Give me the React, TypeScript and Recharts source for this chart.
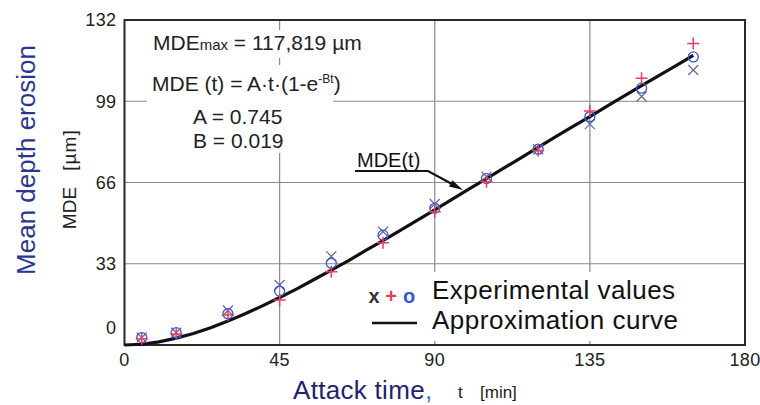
import {
  ComposedChart,
  Line,
  Scatter,
  XAxis,
  YAxis,
  CartesianGrid,
  ReferenceArea,
  Legend,
} from 'recharts'

const font = 'Liberation Sans, Arial, sans-serif'

// measured attack times [min]
const times = [5, 15, 30, 45, 60, 75, 90, 105, 120, 135, 150, 165]
// three experimental runs, MDE [um]
const crossValues = [3.0, 5.0, 14.0, 24.4, 36.0, 46.0, 57.3, 68.4, 79.5, 89.7, 100.9, 111.7]
const circleValues = [3.0, 5.0, 12.7, 21.9, 33.2, 44.6, 55.5, 67.6, 79.5, 92.7, 104.3, 117.0]
const plusValues = [2.5, 4.5, 12.2, 18.3, 29.8, 41.5, 54.1, 66.3, 79.0, 95.0, 108.3, 122.5]

// approximation curve
const curveTimes = [
  0, 5, 10, 15, 20, 25, 30, 35, 40, 45, 50, 55, 60, 65, 70, 75, 80, 85, 90, 95, 100, 105, 110,
  115, 120, 125, 130, 135, 140, 145, 150, 155, 160, 165,
]
const curveValues = [
  0, 0.3, 1.3, 2.8, 4.7, 7.0, 9.7, 12.7, 15.9, 19.3, 22.8, 26.6, 30.4, 34.3, 38.4, 42.4, 46.6,
  50.7, 54.9, 59.1, 63.4, 67.6, 71.8, 76.0, 80.3, 84.5, 88.7, 92.8, 97.0, 101.2, 105.3, 109.4,
  113.5, 117.6,
]

const xTicks = [0, 45, 90, 135, 180]
const yTicks = [0, 33, 66, 99, 132]

const toPoints = (vals: number[]) => times.map((t, i) => ({ t, v: vals[i] }))
const crossData = toPoints(crossValues)
const circleData = toPoints(circleValues)
const plusData = toPoints(plusValues)
const curveData = curveTimes.map((t, i) => ({ t, v: curveValues[i] }))

function XTick({ x, y, payload }: any) {
  return (
    <text x={x} y={y} dy="0.71em" textAnchor="middle" fontSize={18} letterSpacing={0.4} fill="#222" fontFamily={font}>
      {payload.value}
    </text>
  )
}

function YTick({ x, y, payload }: any) {
  // the zero label sits a bit above the bottom frame in the original
  const shift = payload.value === 0 ? -17 : 0
  return (
    <text x={x} y={y + shift} dy="0.36em" textAnchor="end" fontSize={18} letterSpacing={0.4} fill="#222" fontFamily={font}>
      {payload.value}
    </text>
  )
}

const CrossMark = (p: any) => (
  <path
    d={`M${p.cx - 5},${p.cy - 5}L${p.cx + 5},${p.cy + 5}M${p.cx - 5},${p.cy + 5}L${p.cx + 5},${p.cy - 5}`}
    stroke="#6d6d96"
    strokeWidth={1.3}
    fill="none"
  />
)

const PlusMark = (p: any) => (
  <path
    d={`M${p.cx - 6},${p.cy}L${p.cx + 6},${p.cy}M${p.cx},${p.cy - 6}L${p.cx},${p.cy + 6}`}
    stroke="#ec3c5e"
    strokeWidth={1.5}
    fill="none"
  />
)

const CircleMark = (p: any) => (
  <circle cx={p.cx} cy={p.cy} r={5} stroke="#3a55d8" strokeWidth={1.3} fill="none" />
)

function LegendBox() {
  return (
    <svg width={378} height={69} style={{ display: 'block' }}>
      <text x={9} y={31} textAnchor="middle" fontSize={20} fontWeight="bold" fill="#333" fontFamily={font}>
        x
      </text>
      <text x={26} y={31} textAnchor="middle" fontSize={20} fontWeight="bold" fill="#ec3c5e" fontFamily={font}>
        +
      </text>
      <text x={44} y={31} textAnchor="middle" fontSize={20} fontWeight="bold" fill="#2f55e0" fontFamily={font}>
        o
      </text>
      <text x={67} y={27} fontSize={26} letterSpacing={0.5} fill="#111" fontFamily={font}>
        Experimental values
      </text>
      <line x1={7} x2={52} y1={51} y2={51} stroke="#111" strokeWidth={2.5} />
      <text x={67} y={57} fontSize={26} letterSpacing={0.5} fill="#111" fontFamily={font}>
        Approximation curve
      </text>
    </svg>
  )
}

export default function App() {
  return (
    <div style={{ position: 'absolute', left: 0, top: 0, width: 760, height: 405, background: '#fff' }}>
      <ComposedChart width={760} height={405} margin={{ top: 20, right: 15, bottom: 30, left: 64.5 }}>
        <CartesianGrid stroke="#8a8a8a" strokeWidth={1.2} />
        <XAxis
          type="number"
          dataKey="t"
          domain={[0, 180]}
          ticks={xTicks}
          interval={0}
          height={30}
          axisLine={false}
          tickLine={false}
          tick={<XTick />}
        />
        <YAxis
          type="number"
          dataKey="v"
          domain={[0, 132]}
          ticks={yTicks}
          interval={0}
          width={60}
          axisLine={false}
          tickLine={false}
          tick={<YTick />}
        />
        <ReferenceArea x1={0} x2={180} y1={0} y2={132} fill="none" stroke="#2a2a2a" strokeWidth={2} />
        <Scatter data={crossData} dataKey="v" shape={CrossMark} isAnimationActive={false} />
        <Scatter data={circleData} dataKey="v" shape={CircleMark} isAnimationActive={false} />
        <Scatter data={plusData} dataKey="v" shape={PlusMark} isAnimationActive={false} />
        <Line
          data={curveData}
          dataKey="v"
          type="linear"
          stroke="#111"
          strokeWidth={3.2}
          dot={false}
          activeDot={false}
          isAnimationActive={false}
        />
        <Legend
          layout="horizontal"
          verticalAlign="middle"
          align="center"
          content={() => <LegendBox />}
          wrapperStyle={{ position: 'absolute', left: 365, top: 272, width: 378, height: 69, background: '#fff' }}
        />
      </ComposedChart>

      <svg
        width={760}
        height={405}
        style={{ position: 'absolute', left: 0, top: 0, pointerEvents: 'none' }}
        fontFamily={font}
      >
        {/* white boxes behind the annotation text hide the grid */}
        <rect x={147} y={30} width={225} height={28} fill="#fff" />
        <rect x={147} y={65} width={186} height={88} fill="#fff" />

        <text x={153} y={50} fontSize={21} fill="#222">
          MDE<tspan fontSize={15}>max</tspan> = 117,819 µm
        </text>
        <text x={152} y={91} fontSize={21} fill="#222">
          MDE (t) = A·t·(1-e
          <tspan fontSize={12} dy={-8}>
            -Bt
          </tspan>
          <tspan dy={8}>)</tspan>
        </text>
        <text x={193} y={124} fontSize={21} fill="#222">
          A = 0.745
        </text>
        <text x={193} y={148} fontSize={21} fill="#222">
          B = 0.019
        </text>

        <text x={357} y={167} fontSize={20} fill="#111">
          MDE(t)
        </text>
        <path d="M355,171 L428,171 L452,184" stroke="#111" strokeWidth={2.2} fill="none" />
        <polygon points="452.4,180.2 449.0,186.4 463,190" fill="#111" />

        <text
          x={26}
          y={160}
          dy="0.35em"
          textAnchor="middle"
          fontSize={26}
          fill="#2a3592"
          transform="rotate(-90 26 160)"
        >
          Mean depth erosion
        </text>
        <text x={69} y={208} dy="0.35em" textAnchor="middle" fontSize={19} fill="#222" transform="rotate(-90 69 208)">
          MDE
        </text>
        <text
          x={69}
          y={150}
          dy="0.35em"
          textAnchor="middle"
          fontSize={19}
          letterSpacing={1}
          fill="#222"
          transform="rotate(-90 69 150)"
        >
          [µm]
        </text>

        <text x={293} y={399} fontSize={26} letterSpacing={0.3} fill="#1e2470">
          Attack time<tspan fill="#2f6fe0">,</tspan>
        </text>
        <text x={458} y={398} fontSize={17} fill="#222">
          t
        </text>
        <text x={480} y={398} fontSize={17} fill="#222">
          [min]
        </text>
      </svg>
    </div>
  )
}
